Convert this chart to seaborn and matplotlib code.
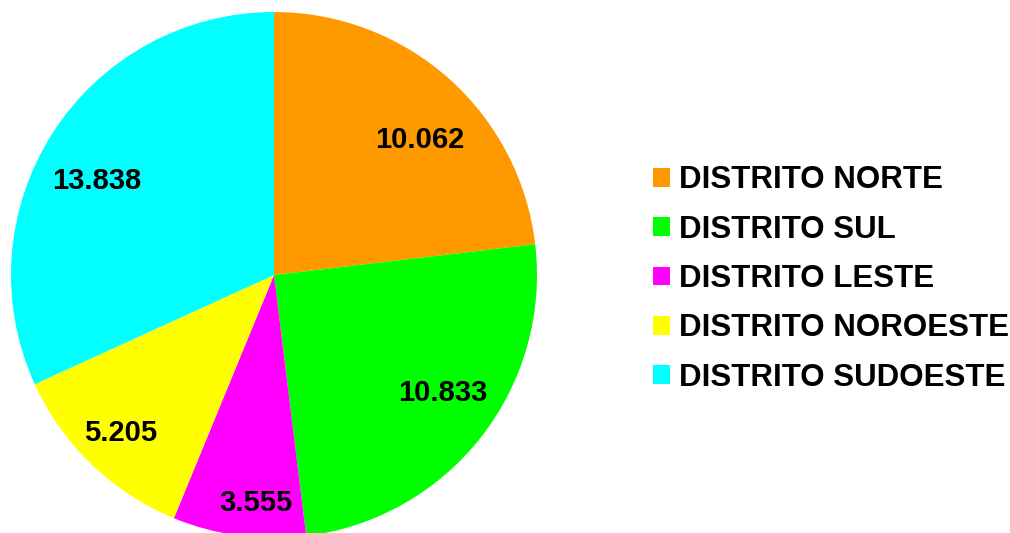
import matplotlib
matplotlib.use("Agg")
import matplotlib.pyplot as plt
import seaborn as sns
import numpy as np
from matplotlib.patches import Patch

categories = ["DISTRITO NORTE", "DISTRITO SUL", "DISTRITO LESTE", "DISTRITO NOROESTE", "DISTRITO SUDOESTE"]
values = [10062, 10833, 3555, 5205, 13838]
colors_hex = ["#FF9900", "#00FF00", "#FF00FF", "#FFFF00", "#00FFFF"]
label_dist = [0.764, 0.777, 0.858, 0.831, 0.771]
label_ang_offset = [-5.0, 4.0, 3.0, -0.8, 4.0]

sns.set_theme(style="white")
plt.rcParams['font.family'] = ['Liberation Sans', 'DejaVu Sans']
plt.rcParams['font.weight'] = 'bold'
plt.rcParams['text.color'] = 'black'

palette = sns.color_palette(colors_hex)

fig = plt.figure(figsize=(10.10, 5.33), dpi=100)
ax = fig.add_axes([11/1010, -5/533, 526/1010, 526/533])

wedges, _ = ax.pie(values, colors=palette, startangle=90, counterclock=False,
                   radius=1.0, wedgeprops=dict(linewidth=0))
ax.set_xlim(-1, 1)
ax.set_ylim(-1, 1)
ax.set_aspect('equal')
ax.axis('off')

def fmt(v):
    return f"{v:,}".replace(",", ".")

for w, v, d, off in zip(wedges, values, label_dist, label_ang_offset):
    ang = np.deg2rad((w.theta1 + w.theta2) / 2 + off)
    ax.text(d * np.cos(ang), d * np.sin(ang), fmt(v), ha='center', va='center_baseline',
            fontsize=21, fontweight='bold', color='black')

handles = [Patch(facecolor=c, edgecolor='none', label=l) for c, l in zip(palette, categories)]
leg = fig.legend(handles=handles, loc='center left', bbox_to_anchor=(653/1010, 1 - 279/533),
                 frameon=False, borderpad=0, borderaxespad=0,
                 handlelength=0.54, handleheight=0.54, handletextpad=0.3,
                 labelspacing=0.62, fontsize=22.5)
for t in leg.get_texts():
    t.set_fontweight('bold')
    t.set_color('black')

fig.savefig("out.png", dpi=100)
